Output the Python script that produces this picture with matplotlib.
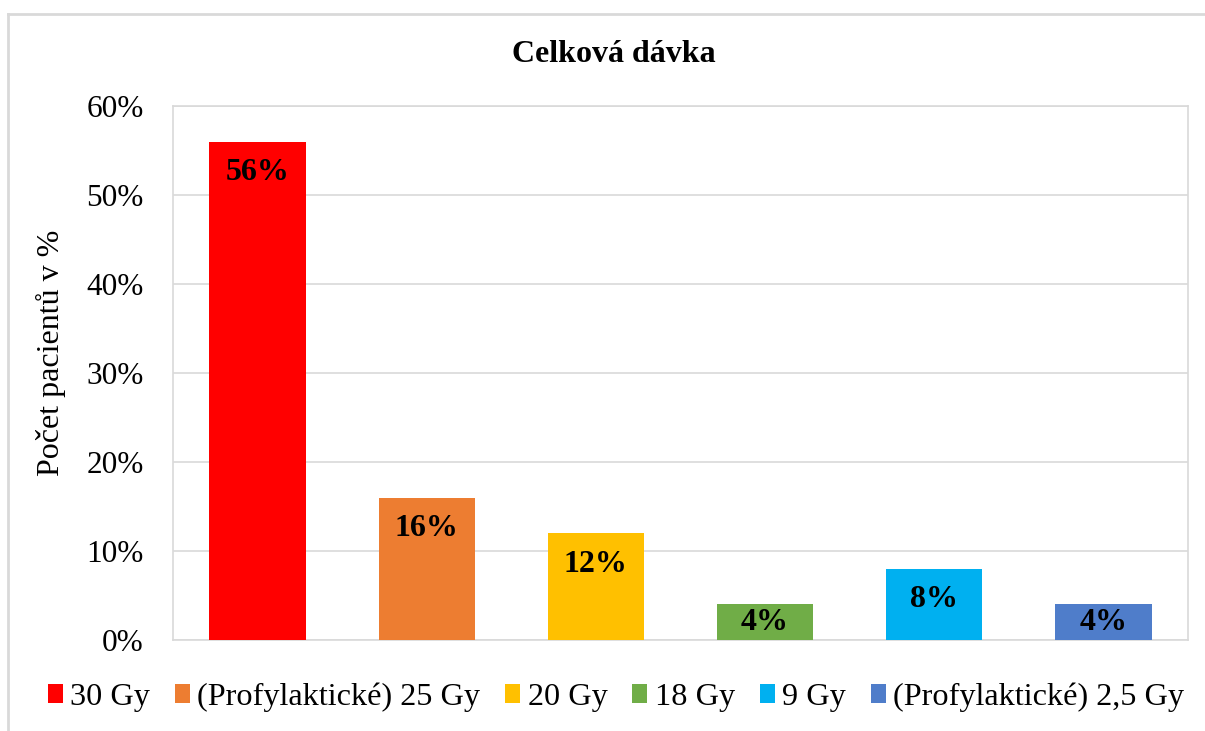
import matplotlib.pyplot as plt
from matplotlib.lines import Line2D
from matplotlib.patches import Patch
from matplotlib.ticker import FuncFormatter

# data
categories = ['30 Gy', '(Profylaktické) 25 Gy', '20 Gy', '18 Gy', '9 Gy', '(Profylaktické) 2,5 Gy']
values = [56, 16, 12, 4, 8, 4]
colors = ['#FF0000', '#ED7D31', '#FFC000', '#70AD47', '#00B0F0', '#4F7DCA']

plt.rcParams['font.family'] = ['Liberation Serif', 'DejaVu Serif']
grey = '#D9D9D9'

fig = plt.figure(figsize=(12.05, 7.31), dpi=100)
ax = fig.add_axes([173 / 1205, 1 - 640 / 731, (1188 - 173) / 1205, (640 - 106) / 731])

x = range(len(values))
ax.bar(x, values, width=0.57, color=colors, zorder=3)

for i, v in enumerate(values):
    ax.text(i, v - min(3.5, v / 2), f'{v}%', ha='center', va='center',
            fontsize=23, fontweight='bold', zorder=4)

ax.set_xlim(-0.5, len(values) - 0.5)
ax.set_ylim(0, 60)
ax.set_yticks(range(0, 61, 10))
ax.yaxis.set_major_formatter(FuncFormatter(lambda v, p: f'{v:.0f}%'))
ax.set_xticks([])
ax.tick_params(axis='y', length=0, labelsize=22.5, pad=21)
ax.grid(axis='y', color=grey, linewidth=1.2, zorder=0)
for s in ax.spines.values():
    s.set_color(grey)
    s.set_linewidth(1.2)

ax.set_ylabel('Počet pacientů v %', fontsize=23)
ax.yaxis.set_label_coords((66 - 173) / 1015, (640 - 353) / 534)
fig.text(614 / 1205, 1 - 55 / 731, 'Celková dávka', ha='center', va='center',
         fontsize=23, fontweight='bold')

handles = [Patch(facecolor=c) for c in colors]
fig.legend(handles, categories, loc='center', bbox_to_anchor=(616 / 1205, 1 - 697 / 731),
           ncol=6, frameon=False, fontsize=23.2, handlelength=0.46, handleheight=0.55,
           handletextpad=0.23, columnspacing=0.78, borderaxespad=0)

# outer chart frame
fig.add_artist(Line2D([8 / 1205, 8 / 1205], [0, 1 - 14 / 731], color=grey, linewidth=2,
                      transform=fig.transFigure))
fig.add_artist(Line2D([8 / 1205, 1], [1 - 14 / 731, 1 - 14 / 731], color=grey, linewidth=2,
                      transform=fig.transFigure))

plt.savefig('out.png', dpi=100)
